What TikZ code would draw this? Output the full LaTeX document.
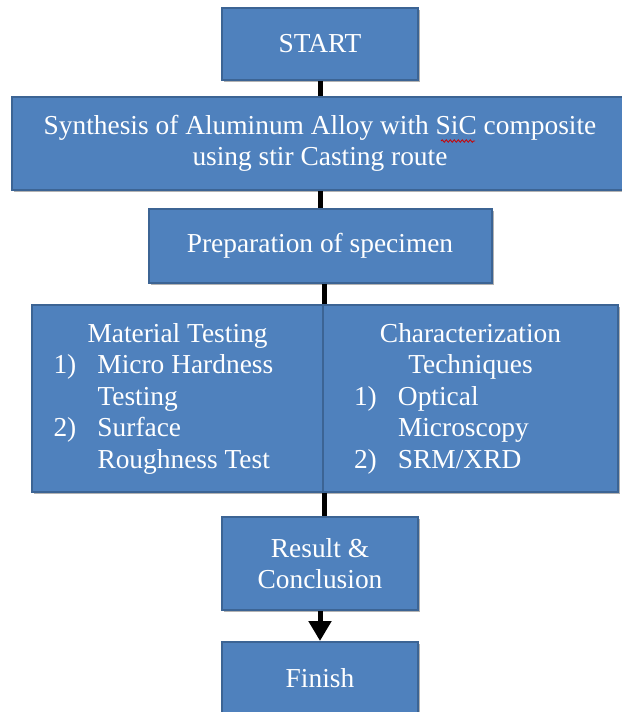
\documentclass[tikz,border=0pt]{standalone}
\usepackage{fontspec}
\setmainfont{Liberation Serif}
\usetikzlibrary{arrows.meta,shadows,decorations.pathmorphing}
\definecolor{boxfill}{HTML}{4F81BD}
\definecolor{boxline}{HTML}{3C6494}
\newcommand{\listline}[3]{\makebox[#1][l]{\makebox[44pt][l]{#2}#3}}
\begin{document}
\begin{tikzpicture}[x=1pt,y=1pt,
  flowbox/.style={rectangle, draw=boxline, line width=2pt, fill=boxfill, text=white,
    font=\fontsize{27.4pt}{31.5pt}\selectfont, align=center, inner sep=0pt,
    drop shadow={shadow xshift=2pt, shadow yshift=-2pt, opacity=0.3, fill=black}},
  conn/.style={line width=5pt, black}]
\useasboundingbox (0,0) rectangle (621,-712);
\fill[white] (0,0) rectangle (621,-712);
\node[flowbox, minimum width=196pt, minimum height=72pt] (start) at (320,-44) {START};
\node[flowbox, minimum width=616pt, minimum height=93pt] (syn) at (320,-143.5)
  {Synthesis of Aluminum Alloy with SiC composite\\using stir Casting route};
\node[flowbox, minimum width=343pt, minimum height=74pt] (prep) at (320,-246) {Preparation of specimen};
\node[flowbox, minimum width=291pt, minimum height=187pt] (mt) at (177.5,-398.5)
  {Material Testing\\
   \listline{248pt}{1)}{Micro Hardness}\\
   \listline{248pt}{}{Testing}\\
   \listline{248pt}{2)}{Surface}\\
   \listline{248pt}{}{Roughness Test}};
\node[flowbox, minimum width=295pt, minimum height=187pt] (ct) at (470.5,-398.5)
  {Characterization\\
   Techniques\\
   \listline{233pt}{1)}{Optical}\\
   \listline{233pt}{}{Microscopy}\\
   \listline{233pt}{2)}{SRM/XRD}};
\node[flowbox, minimum width=196pt, minimum height=93pt] (res) at (320,-563.5) {Result \&\\Conclusion};
\node[flowbox, minimum width=196pt, minimum height=72pt] (fin) at (320,-678) {Finish};
\coordinate (wavyA) at (441,-141);
\coordinate (wavyB) at (475,-141);
\draw[red!80!black, line width=0.8pt, decorate, decoration={snake, amplitude=1.2pt, segment length=4pt}] (wavyA) -- (wavyB);
\draw[conn] (start.south) -- (syn.north);
\draw[conn] (syn.south) -- (prep.north);
\draw[conn] (mt.north east |- prep.south) -- (mt.north east);
\draw[conn] (mt.south east) -- (mt.south east |- res.north);
\draw[conn, -{Triangle[width=22pt,length=20pt]}] (res.south) -- (fin.north);
\end{tikzpicture}
\end{document}
